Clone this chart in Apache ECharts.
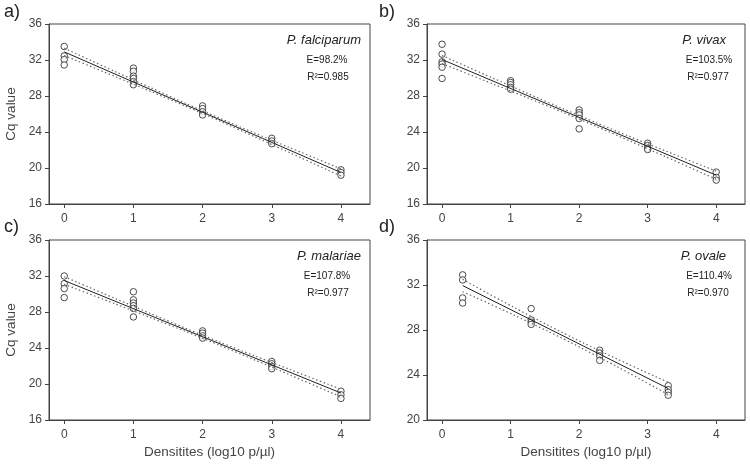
<!DOCTYPE html>
<html>
<head>
<meta charset="utf-8">
<script src="https://cdn.jsdelivr.net/npm/echarts@6/dist/echarts.min.js"></script>
<style>html,body{margin:0;padding:0;background:#fff;}#c{width:750px;height:467px;}</style>
</head>
<body>
<div id="c"></div>
<script>
// ---- data ----
const xTicks = [0, 1, 2, 3, 4];
const yTicksABC = [16, 20, 24, 28, 32, 36];
const yTicksD = [20, 24, 28, 32, 36];

const panelLabels = ['a)', 'b)', 'c)', 'd)'];
const species = ['P. falciparum', 'P. vivax', 'P. malariae', 'P. ovale'];
const efficiency = ['E=98.2%', 'E=103.5%', 'E=107.8%', 'E=110.4%'];
const rSquared = ['R\u00B2=0.985', 'R\u00B2=0.977', 'R\u00B2=0.977', 'R\u00B2=0.970'];

const pointsA = [[0,33.5],[0,32.45],[0,32.05],[0,31.45],
  [1,31.1],[1,30.75],[1,30.2],[1,29.95],[1,29.6],[1,29.25],
  [2,26.9],[2,26.6],[2,26.25],[2,25.9],
  [3,23.3],[3,23.0],[3,22.7],
  [4,19.8],[4,19.5],[4,19.2]];
const pointsB = [[0,33.75],[0,32.65],[0,31.8],[0,31.55],[0,31.2],[0,29.95],
  [1,29.7],[1,29.5],[1,29.25],[1,28.95],[1,28.75],
  [2,26.45],[2,26.15],[2,25.9],[2,25.5],[2,24.35],
  [3,22.75],[3,22.5],[3,22.2],[3,22.05],
  [4,19.55],[4,18.95],[4,18.65]];
const pointsC = [[0,32.0],[0,31.15],[0,30.6],[0,29.6],
  [1,30.25],[1,29.35],[1,29.0],[1,28.7],[1,28.4],[1,27.45],
  [2,25.9],[2,25.65],[2,25.35],[2,25.1],
  [3,22.5],[3,22.25],[3,21.95],[3,21.7],
  [4,19.2],[4,18.8],[4,18.4]];
const pointsD = [[0.3,32.9],[0.3,32.45],[0.3,30.85],[0.3,30.4],
  [1.3,29.9],[1.3,28.9],[1.3,28.7],[1.3,28.5],
  [2.3,26.2],[2.3,25.95],[2.3,25.7],[2.3,25.3],
  [3.3,23.05],[3.3,22.7],[3.3,22.45],[3.3,22.2]];

const fitA = [[0,32.9],[4,19.5]];
const fitB = [[0,32.05],[4,19.2]];
const fitC = [[0,31.5],[4,19.0]];
const fitD = [[0.3,31.95],[3.3,22.8]];

const bandX = [0, 0.5, 1, 1.5, 2, 2.5, 3, 3.5, 4];
const bandXD = [0.3, 0.8, 1.3, 1.8, 2.3, 2.8, 3.3];
const upperA = [33.3, 31.55, 29.79, 28.06, 26.35, 24.71, 23.09, 21.5, 19.9];
const lowerA = [32.5, 30.91, 29.31, 27.7, 26.05, 24.35, 22.61, 20.86, 19.1];
const upperB = [32.5, 30.8, 29.12, 27.45, 25.83, 24.24, 22.69, 21.17, 19.65];
const lowerB = [31.6, 30.08, 28.56, 27.01, 25.43, 23.8, 22.13, 20.45, 18.75];
const upperC = [31.92, 30.28, 28.64, 27.01, 25.42, 23.89, 22.39, 20.9, 19.42];
const lowerC = [31.08, 29.6, 28.12, 26.61, 25.08, 23.49, 21.87, 20.22, 18.58];
const upperD = [32.5, 30.83, 29.2, 27.64, 26.15, 24.73, 23.35];
const lowerD = [31.4, 30.03, 28.6, 27.12, 25.55, 23.93, 22.25];

const xAxisTitle = 'Densitites (log10 p/\u00B5l)';
const yAxisTitle = 'Cq value';

// ---- chart ----
const FONT = '"Liberation Sans", Arial, sans-serif';
const grids = [
  {left: 49, top: 24, width: 321, height: 180},
  {left: 427, top: 24, width: 318, height: 180},
  {left: 49, top: 240, width: 321, height: 180},
  {left: 427, top: 240, width: 318, height: 180}
];
const yRanges = [[16,36],[16,36],[16,36],[20,36]];
const pts = [pointsA, pointsB, pointsC, pointsD];
const fits = [fitA, fitB, fitC, fitD];
const bx = [bandX, bandX, bandX, bandXD];
const ups = [upperA, upperB, upperC, upperD];
const los = [lowerA, lowerB, lowerC, lowerD];
const zip = (xs, ys) => xs.map((x, i) => [x, ys[i]]);

const option = {
  animation: false,
  backgroundColor: '#fff',
  grid: grids.map(g => Object.assign({show: true, borderColor: '#444', borderWidth: 1, backgroundColor: 'transparent'}, g)),
  xAxis: grids.map((g, i) => ({
    type: 'value', gridIndex: i, min: -0.22, max: 4.42,
    splitLine: {show: false},
    axisLine: {show: true, onZero: false, lineStyle: {color: '#444'}},
    axisTick: {show: true, inside: false, length: 4, lineStyle: {color: '#444'}, customValues: xTicks},
    axisLabel: {color: '#444', fontSize: 12, fontFamily: FONT, margin: 9, customValues: xTicks,
      formatter: v => String(v)},
    name: i >= 2 ? xAxisTitle : '',
    nameLocation: 'middle', nameGap: 25,
    nameTextStyle: {color: '#444', fontSize: 13.5, fontFamily: FONT}
  })),
  yAxis: grids.map((g, i) => ({
    type: 'value', gridIndex: i, min: yRanges[i][0], max: yRanges[i][1], interval: 4,
    splitLine: {show: false},
    axisLine: {show: true, onZero: false, lineStyle: {color: '#444'}},
    axisTick: {show: true, inside: false, length: 4, lineStyle: {color: '#444'}},
    axisLabel: {color: '#444', fontSize: 12, fontFamily: FONT, margin: 7},
    name: (i % 2 === 0) ? yAxisTitle : '',
    nameLocation: 'middle', nameGap: 31, nameRotate: 90,
    nameTextStyle: {color: '#444', fontSize: 13.5, fontFamily: FONT}
  })),
  series: [],
  graphic: []
};

for (let i = 0; i < 4; i++) {
  option.series.push({
    type: 'line', xAxisIndex: i, yAxisIndex: i, data: zip(bx[i], ups[i]), smooth: true,
    showSymbol: false, symbol: 'none', silent: true,
    lineStyle: {color: '#666', width: 1.2, type: [1.5, 2.5]}
  });
  option.series.push({
    type: 'line', xAxisIndex: i, yAxisIndex: i, data: zip(bx[i], los[i]), smooth: true,
    showSymbol: false, symbol: 'none', silent: true,
    lineStyle: {color: '#666', width: 1.2, type: [1.5, 2.5]}
  });
  option.series.push({
    type: 'line', xAxisIndex: i, yAxisIndex: i, data: fits[i],
    showSymbol: false, symbol: 'none', silent: true,
    lineStyle: {color: '#222', width: 1}
  });
  option.series.push({
    type: 'scatter', xAxisIndex: i, yAxisIndex: i, data: pts[i],
    symbol: 'circle', symbolSize: 6.5,
    itemStyle: {color: '#fff', borderColor: '#222', borderWidth: 1}
  });

  const g = grids[i];
  const right = g.left + g.width;
  const isRight = i % 2 === 1;
  option.graphic.push({
    type: 'text', left: isRight ? 379 : 4, top: (i < 2) ? 3 : 218,
    style: {text: panelLabels[i], fontSize: 18, fontFamily: FONT, fill: '#222'}
  });
  option.graphic.push({
    type: 'text', x: right - (isRight ? 19 : 9), y: g.top + 16,
    style: {text: species[i], fontSize: 13, fontStyle: 'italic', fontFamily: FONT, fill: '#222',
      align: 'right', verticalAlign: 'middle'}
  });
  option.graphic.push({
    type: 'text', x: right - (isRight ? 36 : 43), y: g.top + 36,
    style: {text: efficiency[i], fontSize: 10, fontFamily: FONT, fill: '#222',
      align: 'center', verticalAlign: 'middle'}
  });
  option.graphic.push({
    type: 'text', x: right - (isRight ? 37 : 42), y: g.top + 53,
    style: {text: rSquared[i], fontSize: 10, fontFamily: FONT, fill: '#222',
      align: 'center', verticalAlign: 'middle'}
  });
}

const chart = echarts.init(document.getElementById('c'), null, {renderer: 'canvas'});
chart.setOption(option);
</script>
</body>
</html>
